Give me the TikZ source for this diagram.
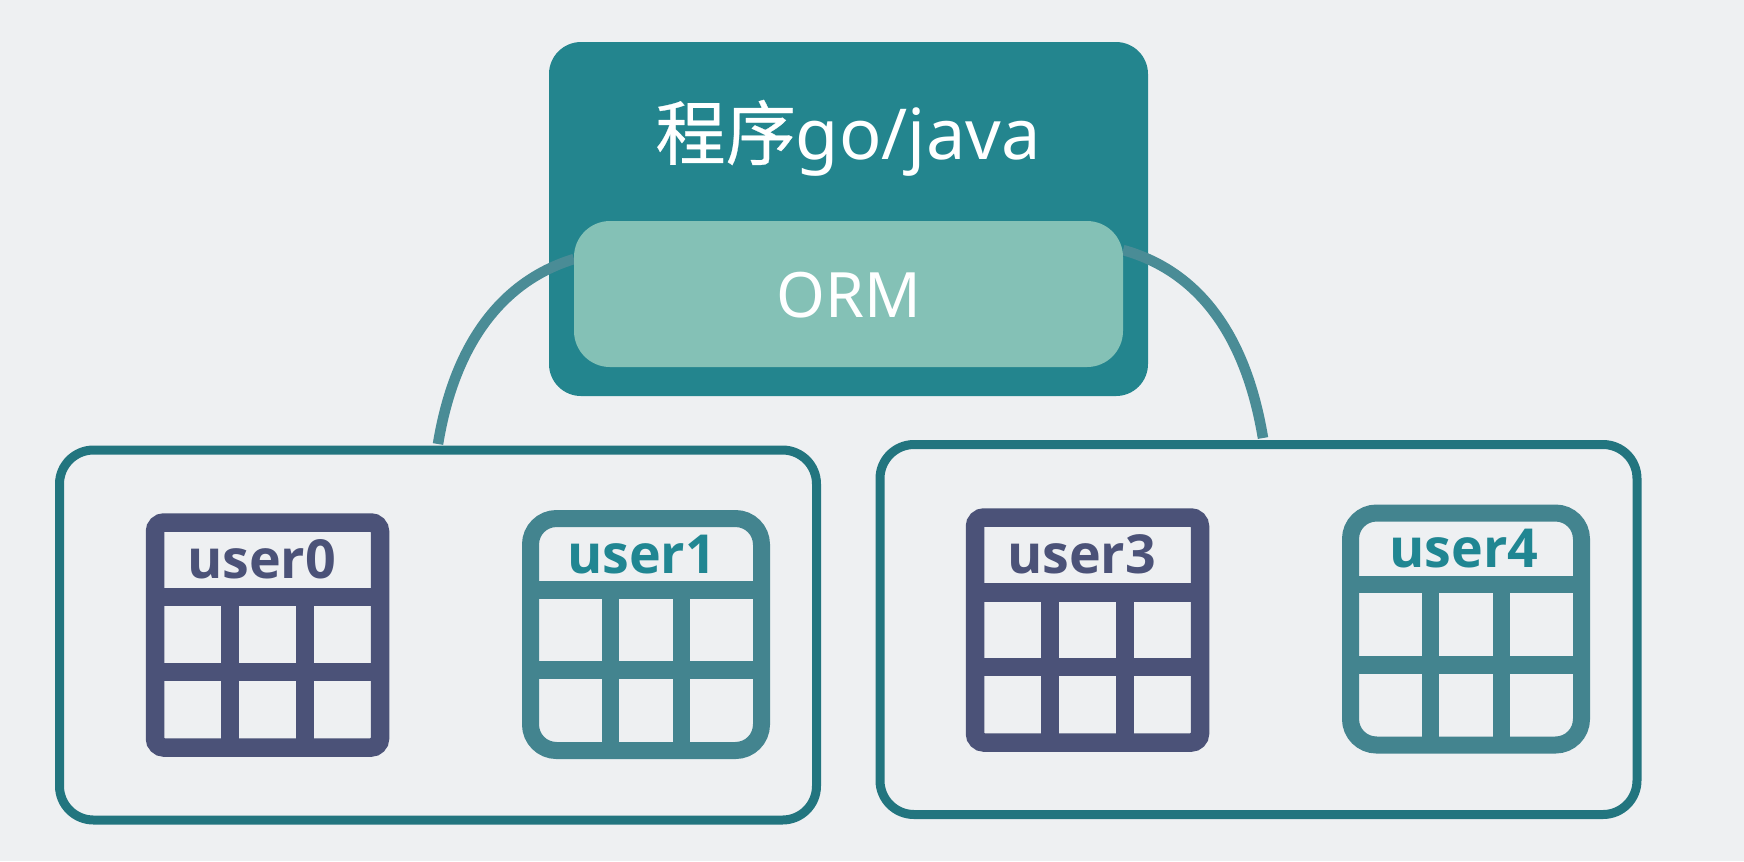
\documentclass[tikz,border=0pt]{standalone}
\usepackage{fontspec}
\setmainfont{Noto Sans}
\newfontfamily\cjkfont[FakeBold=0.4]{Noto Sans CJK SC}
\newfontfamily\userfont{Open Sans}[BoldFont={Open Sans Bold}]
\usepackage{xcolor}
\definecolor{paperbg}{RGB}{238,240,242}
\definecolor{appteal}{RGB}{35,133,142}
\definecolor{ormfill}{RGB}{132,193,182}
\definecolor{grouprim}{RGB}{34,117,127}
\definecolor{wirecol}{RGB}{74,140,150}
\definecolor{tabledark}{RGB}{75,82,120}
\definecolor{tableteal}{RGB}{67,132,143}
\definecolor{labelteal}{RGB}{32,134,146}
\usepackage{tikz}
\usetikzlibrary{arrows.meta,positioning}

\begin{document}
\begin{tikzpicture}[x=0.1mm,y=-0.1mm,
app/.style={fill=appteal,rounded corners=3.2mm,minimum width=59.9mm,minimum height=35.4mm,inner sep=0pt},
orm/.style={fill=ormfill,rounded corners=3.6mm,minimum width=54.9mm,minimum height=14.6mm,inner sep=0pt},
group/.style={draw=grouprim,line width=0.9mm,rounded corners=3.4mm,minimum width=75.7mm,minimum height=37mm,inner sep=0pt},
tbldark/.style={draw=tabledark,fill=paperbg,line width=1.85mm,rounded corners=0.9mm,minimum width=22.5mm,minimum height=22.5mm,inner sep=0pt},
tblteal/.style={draw=tableteal,fill=paperbg,line width=1.7mm,rounded corners=2.6mm,minimum width=23.1mm,minimum height=23.2mm,inner sep=0pt},
bardark/.style={draw=tabledark,line width=1.85mm},
barteal/.style={draw=tableteal,line width=1.75mm},
wire/.style={draw=wirecol,line width=1.05mm},
titletext/.style={text=white,font=\fontsize{20}{24}\selectfont,inner sep=0pt},
ormtext/.style={text=white,font=\fontsize{17.8}{22}\selectfont,inner sep=0pt},
usertext/.style={font=\userfont\bfseries\fontsize{15.3}{18}\selectfont,anchor=base,inner sep=0pt}]
\useasboundingbox (0,0) rectangle (1744,861);
\fill[paperbg] (0,0) rectangle (1744,861);
\node[group] (gl) at (438,635) {};
\node[group] (gr) at (1258.5,629.5) {};
\node[app] (app) at (848.5,219) {};
\node[titletext] (title) at (848,138) {{\cjkfont 程序}go/java};
\coordinate (wl) at (438,444);
\coordinate (wr) at (1263,438);
\coordinate (ol) at (574,259);
\coordinate (or) at (1123,250);
\draw[wire] (wl) .. controls (455,340) and (505,280) .. (ol);
\draw[wire] (or) .. controls (1195,270) and (1245,330) .. (wr);
\node[orm] (ormbox) at (848.5,294) {};
\node[ormtext] (ormlabel) at (849,295) {ORM};
% left group
\node[tbldark] (t0) at (267.5,635) {};
\draw[bardark] (155,597) -- (380,597) (155,672) -- (380,672) (230,597) -- (230,748) (305,597) -- (305,748);
\node[usertext,text=tabledark] (u0) at (261.5,578) {user0};
\node[tblteal] (t1) at (646,634.5) {};
\draw[barteal] (530,590) -- (762,590) (530,670) -- (762,670) (610.5,590) -- (610.5,750) (681.5,590) -- (681.5,750);
\node[usertext,text=labelteal] (u1) at (641.5,573) {user1};
% right group
\node[tbldark] (t3) at (1087.5,630) {};
\draw[bardark] (975,592.5) -- (1200,592.5) (975,667) -- (1200,667) (1050,592.5) -- (1050,743) (1125,592.5) -- (1125,743);
\node[usertext,text=tabledark] (u3) at (1081.5,573) {user3};
\node[tblteal] (t4) at (1466,629) {};
\draw[barteal] (1350,584.5) -- (1582,584.5) (1350,665) -- (1582,665) (1430.5,584.5) -- (1430.5,745) (1501.5,584.5) -- (1501.5,745);
\node[usertext,text=labelteal] (u4) at (1464,567) {user4};
\end{tikzpicture}
\end{document}
